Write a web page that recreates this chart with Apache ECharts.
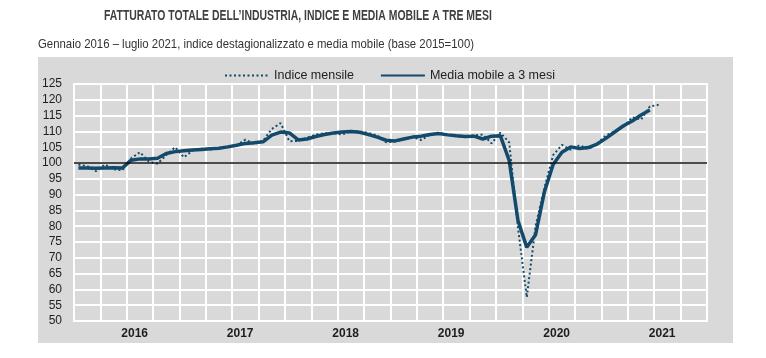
<!DOCTYPE html>
<html>
<head>
<meta charset="utf-8">
<script src="https://cdn.jsdelivr.net/npm/echarts@6/dist/echarts.min.js"></script>
<style>
html,body{margin:0;padding:0;background:#fff;}
#c{width:766px;height:358px;}
</style>
</head>
<body>
<div id="c"></div>
<script>
// ---- data ----
const years = ['2016','2017','2018','2019','2020','2021'];
const monthsOfYear = ['01','02','03','04','05','06','07','08','09','10','11','12'];
const yTicks = {min: 50, max: 125, step: 5};
const titleText = 'FATTURATO TOTALE DELL\u2019INDUSTRIA, INDICE E MEDIA MOBILE A TRE MESI';
const subtitleText = 'Gennaio 2016 \u2013 luglio 2021, indice destagionalizzato e media mobile (base 2015=100)';
const seriesNames = ['Indice mensile', 'Media mobile a 3 mesi'];

const indiceMensile = [
  99.5, 99.0, 97.4, 99.5, 98.0, 97.7, 101.5, 103.4, 100.5, 99.8, 102.5, 105.0,
  101.8, 104.0, 104.5, 104.3, 104.8, 105.2, 105.6, 107.4, 106.0, 107.0, 110.8, 112.6,
  106.9, 107.0, 108.0, 109.0, 109.4, 109.5, 109.0, 110.1, 110.0, 109.5, 108.7, 106.6,
  106.8, 107.5, 108.2, 107.3, 109.0, 109.6, 109.0, 108.5, 108.3, 108.7, 109.0, 106.2,
  109.6, 106.5, 79.5, 57.5, 80.0, 92.0, 102.5, 105.7, 104.2, 105.6, 104.4, 106.1,
  108.7, 110.0, 111.4, 114.5, 113.7, 117.9, 118.4
];
const mediaMobile = [
  98.4, 98.4, 98.3, 98.4, 98.5, 98.4, 100.9, 101.3, 101.3, 101.5, 103.0, 103.6,
  103.9, 104.1, 104.3, 104.5, 104.7, 105.1, 105.6, 106.2, 106.4, 106.7, 108.8, 109.8,
  109.5, 107.3, 107.6, 108.4, 109.0, 109.5, 109.8, 110.0, 109.7, 109.0, 108.2, 107.2,
  107.0, 107.6, 108.2, 108.5, 109.0, 109.3, 108.9, 108.6, 108.4, 108.5, 107.6, 108.5,
  108.6, 100.8, 81.8, 73.3, 77.3, 90.8, 99.5, 103.4, 105.1, 104.6, 104.9, 106.0,
  107.8, 109.8, 111.8, 113.3, 115.2, 116.8, null
];
const refLevel = 100;

// categories: every month of the six years shown on the axis
const categories = [];
years.forEach(y => monthsOfYear.forEach(m => categories.push(y + '-' + m)));

const lineColor = '#134a6b';
const chart = echarts.init(document.getElementById('c'), null, {renderer: 'canvas'});
chart.setOption({
  animation: false,
  backgroundColor: '#ffffff',
  textStyle: {fontFamily: 'Liberation Sans, Arial, sans-serif'},
  graphic: {elements: [{
    type: 'rect', z: -100, silent: true,
    shape: {x: 38, y: 57, width: 695, height: 286},
    style: {fill: '#d9d9d9'}
  }, {
    type: 'text', x: 104, y: 9, scaleX: 0.745, silent: true,
    style: {text: titleText, fill: '#3f3f3f', font: 'bold 14px "Liberation Sans", Arial, sans-serif'}
  }, {
    type: 'text', x: 38, y: 38, scaleX: 0.875, silent: true,
    style: {text: subtitleText, fill: '#333333', font: '13px "Liberation Sans", Arial, sans-serif'}
  }]},
  legend: {
    left: 219, top: 64, itemGap: 26, itemWidth: 44, itemHeight: 10,
    itemStyle: {opacity: 0},
    textStyle: {fontSize: 12.5, color: '#222', fontFamily: 'Liberation Sans, Arial'},
    data: seriesNames
  },
  grid: {
    left: 74, right: 59, top: 84, bottom: 37,
    show: true, backgroundColor: '#d9d9d9', borderColor: '#ffffff', borderWidth: 2
  },
  xAxis: {
    type: 'category', data: categories, boundaryGap: true,
    axisLine: {show: false}, axisTick: {show: false},
    axisLabel: {
      interval: (i) => i % 12 === 6,
      formatter: (v) => v.slice(0, 4),
      fontWeight: 'bold', fontSize: 12, color: '#1e1e1e', margin: 7,
      padding: [0, 0, 0, 7]
    },
    splitLine: {show: true, interval: 2, lineStyle: {color: '#ffffff', width: 2}}
  },
  yAxis: {
    type: 'value', min: yTicks.min, max: yTicks.max, interval: yTicks.step,
    axisLine: {show: false}, axisTick: {show: false},
    axisLabel: {fontSize: 12, color: '#1e1e1e', margin: 12},
    splitLine: {show: true, lineStyle: {color: '#ffffff', width: 2}}
  },
  series: [{
    name: seriesNames[0], type: 'line', data: indiceMensile,
    showSymbol: false, symbol: 'none', z: 3,
    lineStyle: {color: lineColor, width: 2, type: [2, 2.5], cap: 'butt'},
    itemStyle: {color: lineColor},
    markLine: {
      silent: true, symbol: 'none', label: {show: false},
      lineStyle: {color: '#111111', width: 1.5, type: 'solid'},
      data: [{yAxis: refLevel}]
    }
  }, {
    name: seriesNames[1], type: 'line', data: mediaMobile,
    showSymbol: false, symbol: 'none', z: 4,
    lineStyle: {color: lineColor, width: 3.5, type: 'solid'},
    itemStyle: {color: lineColor}
  }]
});
</script>
</body>
</html>
